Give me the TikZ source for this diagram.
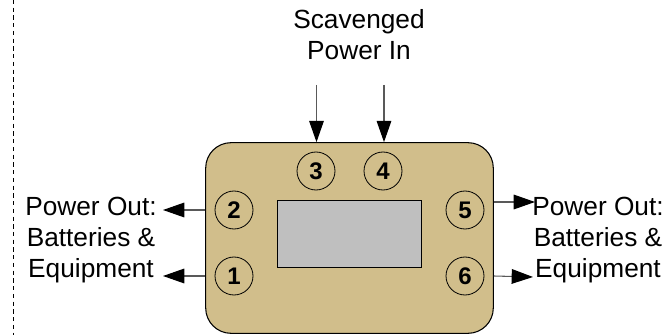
\documentclass[tikz,border=0pt]{standalone}
\usepackage{fontspec}
\setmainfont{Liberation Sans}
\usetikzlibrary{arrows.meta}
\definecolor{casing}{RGB}{209,190,139}
\definecolor{screen}{RGB}{191,191,191}

\begin{document}
\begin{tikzpicture}[x=0.75pt, y=-0.75pt,
	port/.style={shape=circle, draw, line width=0.6pt, minimum size=28.5pt,
	inner sep=0pt, font=\fontsize{18}{20}\selectfont\bfseries},
	sidetext/.style={align=center, anchor=base, inner sep=0pt,
	font=\fontsize{19.7}{23.25}\selectfont},
	flow/.style={draw=black!65, line width=0.8pt,
	-{Triangle[length=16pt, width=11pt, color=black]}}]
	\useasboundingbox (0, 0) rectangle (669, 335);
	% Dashed separator on the far left:
	\draw[line width=0.6pt, dash pattern={on 3.2pt off 2.6pt}] (13, 0) -- (13, 335);
	
	% Casing and display
	\node[shape=rectangle, draw, fill=casing, rounded corners=19pt,
	line width=0.8pt, minimum width=215.7pt, minimum height=143pt]
	(box) at (349.5, 238){};
	\node[shape=rectangle, draw, fill=screen, line width=0.6pt,
	minimum width=108pt, minimum height=50.5pt] (lcd) at (349.7, 233.7){};
	
	% Numbered ports
	\node[port] (P1) at (234, 276){1};
	\node[port] (P2) at (234, 210){2};
	\node[port] (P3) at (316, 171){3};
	\node[port] (P4) at (383, 171){4};
	\node[port] (P5) at (465, 210){5};
	\node[port] (P6) at (465, 276){6};
	
	% Texts round the casing (base = last line)
	\node[sidetext] (inT) at (359, 60){Scavenged\\Power In};
	\node[sidetext] (outL) at (91, 277){Power Out:\\Batteries \&\\Equipment};
	\node[sidetext] (outR) at (598, 277){Power Out:\\Batteries \&\\Equipment};
	
	% Free ends of the arrows
	\coordinate (sT3) at (316.5, 85);
	\coordinate (sT4) at (384, 85);
	\coordinate (tL2) at (163, 210);
	\coordinate (tL1) at (163, 276);
	\coordinate (tR5) at (535, 202);
	\coordinate (tR6) at (533, 277);
	
	% Power in from the top, power out on both sides
	\draw[flow] (sT3) -- (sT3 |- box.north);
	\draw[flow] (sT4) -- (sT4 |- box.north);
	\draw[flow] (box.west |- P2) -- (tL2);
	\draw[flow] (box.west |- P1) -- (tL1);
	\draw[flow] (box.east |- tR5) -- (tR5);
	\draw[flow] (box.east |- P6) -- (tR6);
\end{tikzpicture}
\end{document}
